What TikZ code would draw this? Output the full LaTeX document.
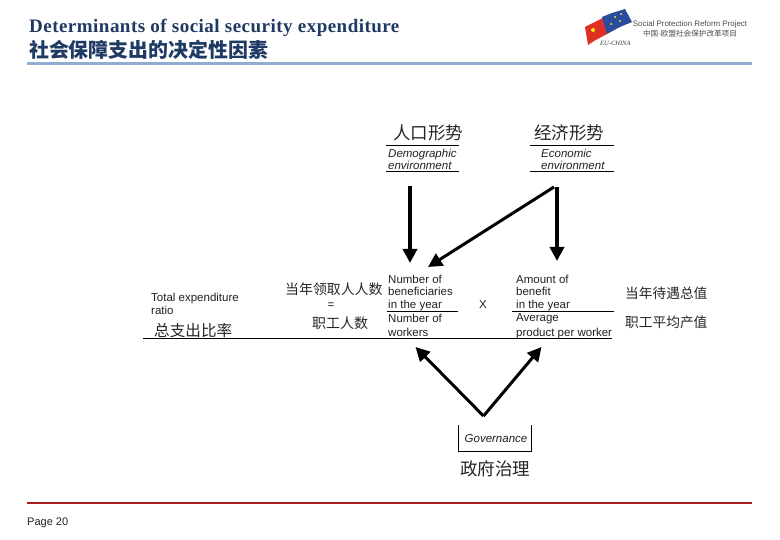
\documentclass[tikz,border=0pt]{standalone}
\usepackage{fontspec}
\setmainfont{Liberation Sans}
\newfontfamily\serifbold[Scale=1]{Liberation Serif}
\newfontfamily\cjk{Noto Sans CJK SC}
\usetikzlibrary{arrows.meta}
\definecolor{titleblue}{HTML}{1F3A63}
\definecolor{rulesteel}{HTML}{8FADD0}
\definecolor{rulered}{HTML}{A51C1C}
\definecolor{inkgray}{HTML}{222222}
\definecolor{logored}{HTML}{DE3024}
\definecolor{logoblue}{HTML}{2A4C9C}
\tikzset{
  lab/.style={inner sep=0pt,anchor=base west,font=\fontsize{11.5}{11.5}\selectfont,text=inkgray},
  labit/.style={inner sep=0pt,anchor=base west,font=\fontsize{11.5}{11.5}\selectfont\itshape,text=inkgray},
  cn/.style={inner sep=0pt,anchor=base west,font=\cjk\fontsize{#1}{#1}\selectfont,text=black!85},
  thinrule/.style={draw=black,line width=1pt},
  bigarrow/.style={draw=black,line width=4pt,-{Triangle[length=14pt,width=14pt]}},
  midarrow/.style={draw=black,line width=3pt,-{Triangle[length=14pt,width=14pt]}},
}
\begin{document}
\begin{tikzpicture}[x=1pt,y=-1pt]
\useasboundingbox (0,0) rectangle (780,540);
\fill[white] (0,0) rectangle (780,540);
% header
\node[inner sep=0pt,anchor=base west,text=titleblue,font=\fontsize{19}{19}\selectfont\serifbold\bfseries\addfontfeature{LetterSpace=2.5}] (title) at (29,32.5) {Determinants of social security expenditure};
\node[inner sep=0pt,anchor=base west,text=titleblue,font=\cjk\bfseries\fontsize{19.9}{20}\selectfont] (titlecn) at (29,58) {社会保障支出的决定性因素};
\draw[rulesteel,line width=3pt] (27,63.5) -- (752,63.5);
% logo
\fill[logored] (585,27) -- (603,18) -- (607,34) -- (594,41) -- (588,45) -- cycle;
\fill[logoblue] (602,17) -- (612,13) -- (625,9) -- (632,22) -- (620,27) -- (607,34) -- cycle;
\fill[yellow!90!orange] (593,30) circle (2pt);
\fill[yellow!80!white] (615,17) circle (1pt) (621,14) circle (1pt) (611,24) circle (1pt) (620,21) circle (1pt);
\node[inner sep=0pt,anchor=base west,text=black!75,font=\serifbold\itshape\fontsize{6.5}{7}\selectfont] (logoeu) at (600,46) {EU-CHINA};
\node[inner sep=0pt,anchor=base,text=black!70,font=\fontsize{7.9}{8}\selectfont] (logoen) at (690,27) {Social Protection Reform Project};
\node[inner sep=0pt,anchor=base,text=black!70,font=\cjk\fontsize{7.6}{8}\selectfont] (logocn) at (690,37) {中国-欧盟社会保护改革项目};
% top boxes
\node[cn=17.5] (demoCN) at (393,140) {人口形势};
\node[cn=17.5] (econCN) at (534,140) {经济形势};
\draw[thinrule] (386,146) -- (459,146) (386,171.5) -- (459,171.5);
\draw[thinrule] (530,146) -- (614,146) (530,171.5) -- (614,171.5);
\node[labit] (demo1) at (388,158) {Demographic};
\node[labit] (demo2) at (388,170) {environment};
\node[labit] (econ1) at (541,158) {Economic};
\node[labit] (econ2) at (541,170) {environment};
% arrow anchors
\coordinate (demoOut) at (410,186);
\coordinate (benIn) at (410,263);
\coordinate (econOut) at (557,187);
\coordinate (amtIn) at (557,261);
\coordinate (econDiag) at (554,187);
\coordinate (benDiag) at (428,267);
\coordinate (govTop) at (483.5,416);
\coordinate (workIn) at (415.5,347);
\coordinate (prodIn) at (541.5,347);
\draw[bigarrow] (demoOut) -- (benIn);
\draw[bigarrow] (econOut) -- (amtIn);
\draw[midarrow] (econDiag) -- (benDiag);
\draw[midarrow] (govTop) -- (workIn);
\draw[midarrow] (govTop) -- (prodIn);
% equation
\node[lab] (tot1) at (151,302) {Total expenditure};
\node[lab] (tot2) at (151,315) {ratio};
\node[cn=15.6] (totCN) at (154,337) {总支出比率};
\node[cn=13.9] (numCN) at (285,295) {当年领取人人数};
\node[lab,anchor=base] (eq) at (331,309) {=};
\node[cn=14] (denCN) at (312,329) {职工人数};
\node[lab] (n1) at (388,284) {Number of};
\node[lab] (n2) at (388,296) {beneficiaries};
\node[lab] (n3) at (388,309) {in the year};
\node[lab] (n4) at (388,323) {Number of};
\node[lab] (n5) at (388,337) {workers};
\node[lab,anchor=base] (times) at (483,309) {X};
\node[lab] (a1) at (516,284) {Amount of};
\node[lab] (a2) at (516,296) {benefit};
\node[lab] (a3) at (516,309) {in the year};
\node[lab] (a4) at (516,322) {Average};
\node[lab] (a5) at (516,337) {product per worker};
\node[cn=13.7] (ampCN) at (625,299) {当年待遇总值};
\node[cn=13.7] (avgCN) at (625,328) {职工平均产值};
\draw[thinrule] (387,311.5) -- (458,311.5);
\draw[thinrule] (512,311.5) -- (614,311.5);
\draw[thinrule] (143,338.5) -- (612,338.5);
% governance
\draw[thinrule] (458,425) -- (458,451) -- (531,451) -- (531,425);
\node[labit,anchor=base] (gov) at (496,442.5) {Governance};
\node[cn=17.5] (govCN) at (460,475) {政府治理};
% footer
\draw[rulered,line width=2pt] (27,503) -- (752,503);
\node[lab,font=\fontsize{11}{11}\selectfont] (page) at (27,525) {Page 20};
\end{tikzpicture}
\end{document}
